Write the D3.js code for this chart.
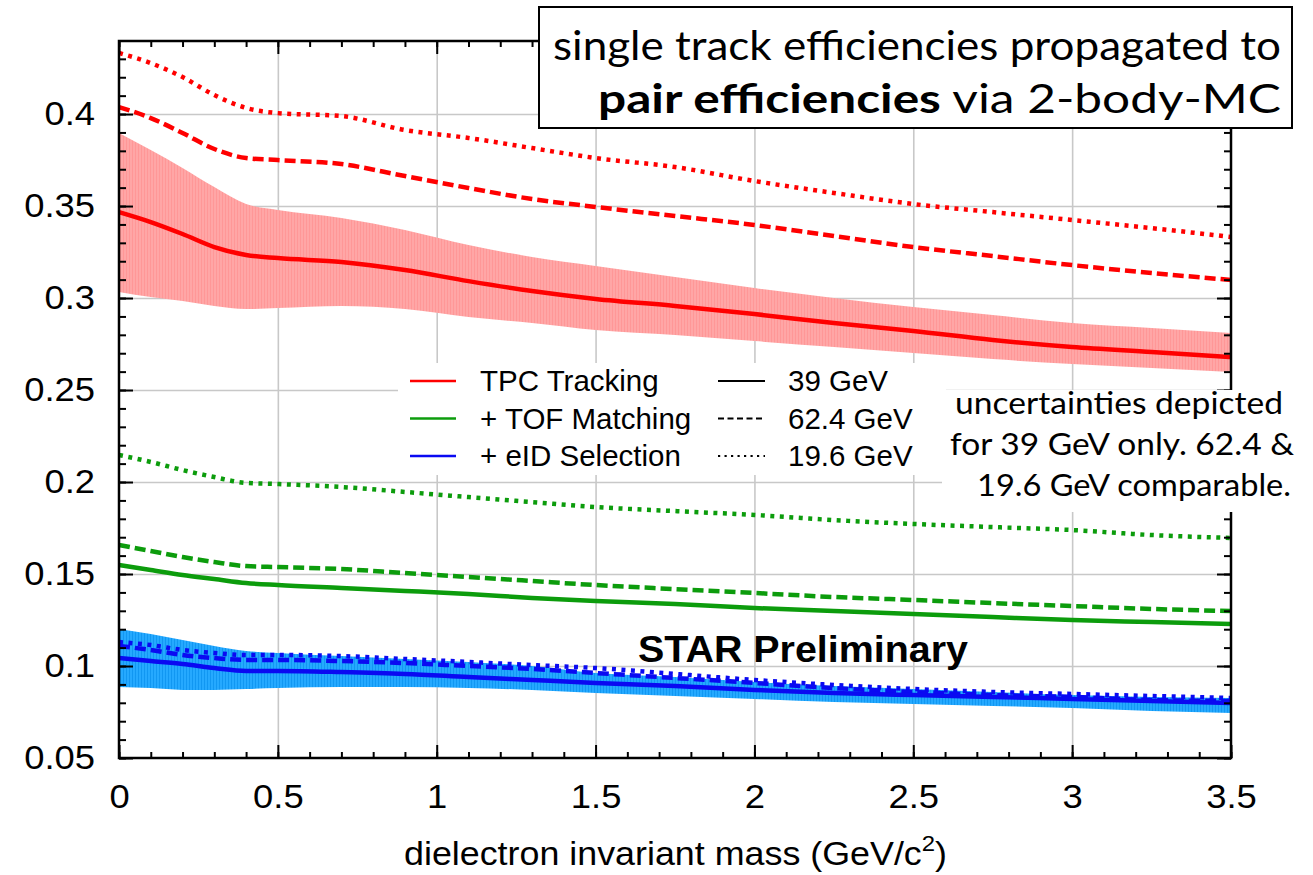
<!DOCTYPE html>
<html><head><meta charset="utf-8">
<script src="https://cdn.jsdelivr.net/npm/d3@7"></script>
<style>body{margin:0;background:#fff}svg{display:block}</style>
</head><body><svg id="c" width="1313" height="875"></svg>
<script>
// ---- data ----
const mass   = [0,0.1,0.2,0.3,0.4,0.5,0.7,0.9,1.1,1.3,1.5,1.75,2,2.25,2.5,2.75,3,3.25,3.5];
const tpc39   = [0.3467,0.3413,0.3348,0.3277,0.3234,0.3217,0.3196,0.3152,0.3092,0.3038,0.2995,0.2957,0.2913,0.2864,0.2821,0.2772,0.2734,0.2707,0.2679];
const tpc39Hi = [0.3897,0.3804,0.3707,0.3603,0.3511,0.3478,0.3435,0.3370,0.3288,0.3223,0.3174,0.3114,0.3054,0.3000,0.2951,0.2908,0.2864,0.2837,0.2810];
const tpc39Lo = [0.3033,0.3005,0.2984,0.2957,0.2940,0.2946,0.2957,0.2940,0.2897,0.2864,0.2826,0.2799,0.2766,0.2734,0.2701,0.2668,0.2641,0.2620,0.2598];
const tpc62   = [0.4038,0.3978,0.3897,0.3810,0.3761,0.3750,0.3728,0.3663,0.3598,0.3538,0.3495,0.3446,0.3397,0.3337,0.3277,0.3228,0.3179,0.3136,0.3098];
const tpc19   = [0.4332,0.4277,0.4201,0.4103,0.4033,0.4005,0.3989,0.3913,0.3870,0.3815,0.3761,0.3712,0.3636,0.3571,0.3511,0.3467,0.3424,0.3380,0.3332];
const tof39   = [0.1549,0.1522,0.1495,0.1473,0.1451,0.1440,0.1424,0.1408,0.1391,0.1370,0.1353,0.1337,0.1315,0.1299,0.1283,0.1266,0.1250,0.1239,0.1228];
const tof62   = [0.1658,0.1625,0.1592,0.1565,0.1543,0.1538,0.1527,0.1505,0.1484,0.1462,0.1440,0.1418,0.1397,0.1375,0.1359,0.1342,0.1326,0.1310,0.1299];
const tof19   = [0.2147,0.2109,0.2065,0.2027,0.1995,0.1989,0.1973,0.1946,0.1918,0.1891,0.1864,0.1842,0.1821,0.1793,0.1772,0.1755,0.1739,0.1712,0.1696];
const eid39   = [0.1043,0.1027,0.1011,0.0989,0.0973,0.0973,0.0967,0.0957,0.0940,0.0924,0.0908,0.0891,0.0870,0.0853,0.0842,0.0832,0.0821,0.0810,0.0799];
const eid39Hi = [0.1201,0.1174,0.1141,0.1109,0.1082,0.1071,0.1054,0.1038,0.1022,0.1000,0.0962,0.0940,0.0913,0.0891,0.0875,0.0859,0.0842,0.0832,0.0826];
const eid39Lo = [0.0886,0.0880,0.0870,0.0870,0.0875,0.0880,0.0886,0.0886,0.0880,0.0870,0.0853,0.0837,0.0821,0.0804,0.0793,0.0783,0.0772,0.0755,0.0745];
const eid62   = [0.1109,0.1087,0.1060,0.1043,0.1033,0.1033,0.1027,0.1016,0.1000,0.0984,0.0962,0.0935,0.0908,0.0880,0.0859,0.0842,0.0832,0.0815,0.0810];
const eid19   = [0.1130,0.1114,0.1087,0.1071,0.1060,0.1060,0.1054,0.1038,0.1022,0.1005,0.0989,0.0957,0.0924,0.0897,0.0875,0.0859,0.0848,0.0837,0.0826];

const xTicks = [0,0.5,1,1.5,2,2.5,3,3.5];
const xTickLabels = ["0","0.5","1","1.5","2","2.5","3","3.5"];
const yTicks = [0.05,0.1,0.15,0.2,0.25,0.3,0.35,0.4];
const yTickLabels = ["0.05","0.1","0.15","0.2","0.25","0.3","0.35","0.4"];
const legendSteps = ["TPC Tracking","+ TOF Matching","+ eID Selection"];
const legendEnergies = ["39 GeV","62.4 GeV","19.6 GeV"];

// ---- layout ----
const L=119, R=1231, T=41, B=758;
const COL = {red:"#ff0000", green:"#0c9c0c", blue:"#0a0af2"};
const DASH = {solid:null, dashed:"11,5", dotted:"4,5.5"};
const svg = d3.select("#c");
svg.append("rect").attr("width",1313).attr("height",875).attr("fill","#fff");

const x = d3.scaleLinear().domain([0,3.5]).range([L,R]);
const y = d3.scaleLinear().domain([0.05,0.4397]).range([B,T]);

// patterns for hatched bands
const defs = svg.append("defs");
function hatch(id, base, stripe){
  const p = defs.append("pattern").attr("id",id).attr("patternUnits","userSpaceOnUse")
    .attr("width",3).attr("height",10);
  p.append("rect").attr("width",3).attr("height",10).attr("fill",base);
  p.append("rect").attr("width",1).attr("height",10).attr("fill",stripe);
}
hatch("hRed","#ffa6a6","#ff9797");
hatch("hBlue","#25a9ff","#1197f2");

// grid
const gridG = svg.append("g");
gridG.append("g").attr("transform",`translate(0,${B})`)
  .call(d3.axisBottom(x).tickValues(xTicks.slice(1,-1)).tickSize(-(B-T)).tickFormat(""))
  .call(g=>g.select(".domain").remove());
gridG.append("g").attr("transform",`translate(${L},0)`)
  .call(d3.axisLeft(y).tickValues(yTicks.slice(1)).tickSize(-(R-L)).tickFormat(""))
  .call(g=>g.select(".domain").remove());
gridG.selectAll("line").attr("stroke","#c8c8c8").attr("stroke-width",1.6);

// bands
const curve = d3.curveMonotoneX;
const area = (lo,hi)=>d3.area().curve(curve).x((d,i)=>x(mass[i])).y0((d,i)=>y(lo[i])).y1((d,i)=>y(hi[i]));
svg.append("path").attr("d",area(tpc39Lo,tpc39Hi)(mass)).attr("fill","url(#hRed)");
svg.append("path").attr("d",area(eid39Lo,eid39Hi)(mass)).attr("fill","url(#hBlue)");

// curves
const line = vals => d3.line().curve(curve).x((d,i)=>x(mass[i])).y((d,i)=>y(vals[i]))(mass);
const series = [
  [tpc19,"red","dotted"],[tpc62,"red","dashed"],[tpc39,"red","solid"],
  [tof19,"green","dotted"],[tof62,"green","dashed"],[tof39,"green","solid"],
  [eid19,"blue","dotted"],[eid62,"blue","dashed"],[eid39,"blue","solid"]
];
series.forEach(([v,c,s])=>{
  svg.append("path").attr("d",line(v)).attr("fill","none").attr("stroke",COL[c])
    .attr("stroke-width",4.5).attr("stroke-dasharray",DASH[s]).attr("stroke-linejoin","round");
});

// axes (ticks inward on all sides)
const tickFont = "'Liberation Sans', Arial, Helvetica, sans-serif";
const minorX = d3.range(0,36).map(i=>i/10);
const minorY = d3.range(5,44).map(i=>i/100);
function styleAxis(g){ g.select(".domain").remove(); g.selectAll("line").attr("stroke","#000").attr("stroke-width",2); }
// left
svg.append("g").attr("transform",`translate(${L},0)`)
  .call(d3.axisLeft(y).tickValues(minorY).tickSize(-7).tickFormat("")).call(styleAxis);
const gl = svg.append("g").attr("transform",`translate(${L},0)`)
  .call(d3.axisLeft(y).tickValues(yTicks).tickSize(-14).tickPadding(24).tickFormat((d,i)=>yTickLabels[i])).call(styleAxis);
// right
svg.append("g").attr("transform",`translate(${R},0)`)
  .call(d3.axisRight(y).tickValues(minorY).tickSize(-7).tickFormat("")).call(styleAxis);
svg.append("g").attr("transform",`translate(${R},0)`)
  .call(d3.axisRight(y).tickValues(yTicks).tickSize(-14).tickFormat("")).call(styleAxis);
// bottom
svg.append("g").attr("transform",`translate(0,${B})`)
  .call(d3.axisBottom(x).tickValues(minorX).tickSize(-6).tickFormat("")).call(styleAxis);
const gb = svg.append("g").attr("transform",`translate(0,${B})`)
  .call(d3.axisBottom(x).tickValues(xTicks).tickSize(-13).tickPadding(26).tickFormat((d,i)=>xTickLabels[i])).call(styleAxis);
// top
svg.append("g").attr("transform",`translate(0,${T})`)
  .call(d3.axisTop(x).tickValues(minorX).tickSize(-6).tickFormat("")).call(styleAxis);
svg.append("g").attr("transform",`translate(0,${T})`)
  .call(d3.axisTop(x).tickValues(xTicks).tickSize(-13).tickFormat("")).call(styleAxis);
[gl,gb].forEach(g=>g.selectAll("text").attr("font-family",tickFont).attr("font-size",34).attr("fill","#000")
  .each(function(){ const w=this.getComputedTextLength(); d3.select(this).attr("textLength",w*1.07).attr("lengthAdjust","spacingAndGlyphs"); }));

// frame
svg.append("rect").attr("x",L).attr("y",T).attr("width",R-L).attr("height",B-T)
  .attr("fill","none").attr("stroke","#000").attr("stroke-width",2.5);

// axis title
const xt = svg.append("text").attr("x",(L+R)/2+0.5).attr("y",865).attr("text-anchor","middle")
  .attr("font-family",tickFont).attr("font-size",33).attr("fill","#000");
xt.append("tspan").text("dielectron invariant mass (GeV/c");
xt.append("tspan").attr("font-size",22).attr("dy",-14).text("2");
xt.append("tspan").attr("dy",14).text(")");
xt.attr("textLength",543).attr("lengthAdjust","spacingAndGlyphs");

// legend
const lg = svg.append("g");
lg.append("rect").attr("x",398).attr("y",363).attr("width",548).attr("height",112).attr("fill","#fff");
const rowsY = [381,418.5,456];
const stepCols = ["red","green","blue"];
legendSteps.forEach((t,i)=>{
  lg.append("line").attr("x1",410).attr("x2",456).attr("y1",rowsY[i]).attr("y2",rowsY[i])
    .attr("stroke",COL[stepCols[i]]).attr("stroke-width",2.5);
  lg.append("text").attr("x",480).attr("y",rowsY[i]+10).attr("font-family",tickFont)
    .attr("font-size",29.5).attr("fill","#000").text(t);
});
const eDash = [null,"6,3.5","2.2,4.3"];
legendEnergies.forEach((t,i)=>{
  lg.append("line").attr("x1",718).attr("x2",765).attr("y1",rowsY[i]).attr("y2",rowsY[i])
    .attr("stroke","#000").attr("stroke-width",2).attr("stroke-dasharray",eDash[i]);
  lg.append("text").attr("x",788).attr("y",rowsY[i]+10).attr("font-family",tickFont)
    .attr("font-size",29.5).attr("fill","#000").text(t);
});

// uncertainty note
const humanist = "Lato, 'Open Sans', sans-serif";
svg.append("rect").attr("x",942).attr("y",390).attr("width",360).attr("height",122).attr("fill","#fff");
const note = ["uncertainties depicted","for 39 GeV only. 62.4 &","19.6 GeV comparable."];
const noteY = [414,455,496], noteW=[328,344,314], noteX=[1119,1122,1134];
note.forEach((t,i)=>svg.append("text").attr("x",noteX[i]).attr("y",noteY[i]).attr("text-anchor","middle")
  .attr("font-family",humanist).attr("font-size",31).attr("fill","#000")
  .attr("textLength",noteW[i]).attr("lengthAdjust","spacingAndGlyphs").text(t));

// STAR Preliminary
svg.append("text").attr("x",638).attr("y",662).attr("font-family",tickFont).attr("font-weight","bold")
  .attr("font-size",37).attr("fill","#000").attr("textLength",330).attr("lengthAdjust","spacingAndGlyphs")
  .text("STAR Preliminary");

// title box
svg.append("rect").attr("x",539).attr("y",7).attr("width",753).attr("height",121)
  .attr("fill","#fff").attr("stroke","#000").attr("stroke-width",2);
svg.append("text").attr("x",1281).attr("y",60).attr("text-anchor","end").attr("font-family",humanist)
  .attr("font-size",40).attr("fill","#000").attr("textLength",728).attr("lengthAdjust","spacingAndGlyphs")
  .text("single track efficiencies propagated to");
const t2 = svg.append("text").attr("x",1281).attr("y",113).attr("text-anchor","end").attr("font-family",humanist)
  .attr("font-size",40).attr("fill","#000");
t2.append("tspan").attr("font-weight","bold").text("pair efficiencies");
t2.append("tspan").text(" via 2-body-MC");
t2.attr("textLength",683).attr("lengthAdjust","spacingAndGlyphs");
</script></body></html>
